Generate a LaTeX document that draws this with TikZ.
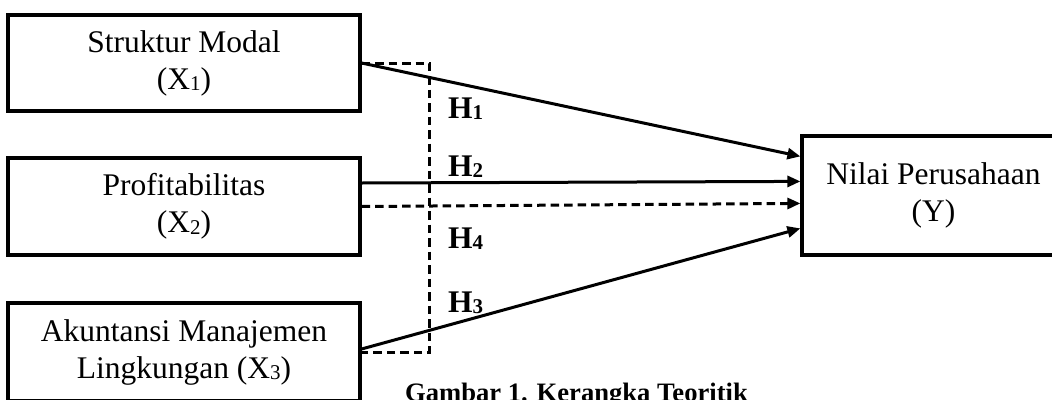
\documentclass[tikz,border=0pt]{standalone}
\usepackage{fontspec}
\setmainfont{Liberation Serif}
\usetikzlibrary{arrows.meta,calc}
\newcommand\lowsub[1]{\raisebox{-1.5pt}{\fontsize{21}{21}\selectfont #1}}
\tikzset{
  varbox/.style={draw, line width=3.2pt, inner sep=0pt, align=center,
    font=\fontsize{31.5}{37}\selectfont},
  arr/.style={line width=3pt, -{Triangle[length=13pt,width=11pt]}},
  dasharr/.style={arr, dash pattern=on 8.5pt off 5pt},
  dashline/.style={line width=3pt, dash pattern=on 8.5pt off 5pt},
  hlabel/.style={anchor=base west, inner sep=0pt, font=\fontsize{31.5}{37}\selectfont\bfseries},
  caption/.style={anchor=base west, inner sep=0pt, font=\fontsize{26.6}{30}\selectfont\bfseries}
}
\begin{document}
\begin{tikzpicture}[x=1pt, y=-1pt]
\useasboundingbox (0,0) rectangle (1052,399);
% boxes
\node[varbox, minimum width=352pt, minimum height=96pt] (x1) at (184,63)
  {Struktur Modal\\(X\lowsub{1})};
\node[varbox, minimum width=352pt, minimum height=97pt] (x2) at (184,206.5)
  {Profitabilitas\\(X\lowsub{2})};
\node[varbox, minimum width=352pt, minimum height=98pt] (x3) at (184,352)
  {Akuntansi Manajemen\\Lingkungan (X\lowsub{3})};
\node[varbox, minimum width=263pt, minimum height=119pt] (y) at (933.5,195.5)
  {Nilai Perusahaan\\(Y)};
% dashed bracket (moderation)
\draw[dashline] (x1.east) -- ++(68,0) |- (x3.east);
% arrows
\draw[arr] (x1.east) -- ($(y.north west)+(0,22)$);
\draw[arr] ($(x2.east)+(0,-23.5)$) -- ($(y.north west)+(0,47)$);
\draw[dasharr] (x2.east) -- ($(y.north west)+(0,69)$);
\draw[arr] ($(x3.east)+(0,-3)$) -- ($(y.north west)+(0,94)$);
% labels
\node[hlabel] (h1) at (448,118) {H\lowsub{1}};
\node[hlabel] (h2) at (448,176) {H\lowsub{2}};
\node[hlabel] (h4) at (448,248) {H\lowsub{4}};
\node[hlabel] (h3) at (448,312) {H\lowsub{3}};
\node[caption] (cap) at (405,401) {Gambar 1. Kerangka Teoritik};
\end{tikzpicture}
\end{document}
